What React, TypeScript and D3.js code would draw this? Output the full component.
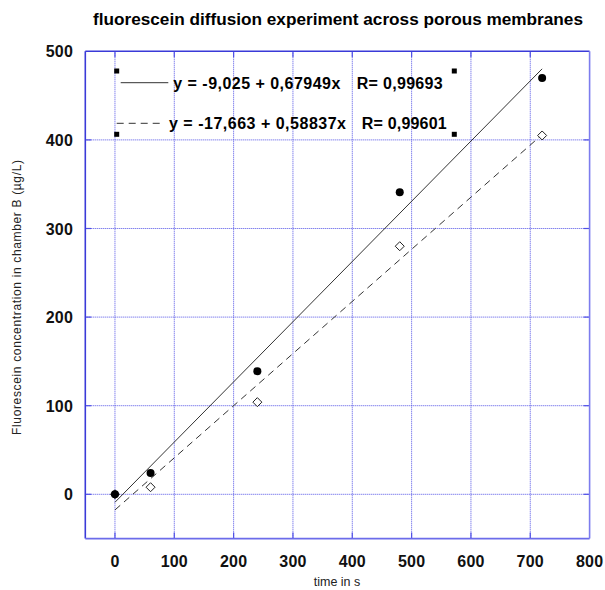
import React from "react";
import * as d3 from "d3";

const timesA = [0, 60, 240, 480, 720];
const concA = [0, 24, 139, 341, 470];
const timesB = [0, 60, 240, 480, 720];
const concB = [0, 8, 104, 280, 405];
const fitA = { intercept: -9.025, slope: 0.67949 };
const fitB = { intercept: -17.663, slope: 0.58837 };
const xTicks = [0, 100, 200, 300, 400, 500, 600, 700, 800];
const yTicks = [0, 100, 200, 300, 400, 500];
const xGrid = [0, 100, 200, 300, 400, 500, 600, 700];
const yGrid = [0, 100, 200, 300, 400];
const legendEq = ["y = -9,025 + 0,67949x", "y = -17,663 + 0,58837x"];
const legendR = ["R= 0,99693", "R= 0,99601"];
const fitRange = [0, 720];

const W = 605;
const H = 590;
const L = 85.3, R = 589.6, T = 51.3, B = 538.6;

export default function App() {
  const x = d3.scaleLinear().domain([-50, 800]).range([L, R]);
  const y = d3.scaleLinear().domain([-50, 500]).range([B, T]);
  const font = "'Liberation Sans', Arial, sans-serif";
  const line = d3
    .line<number>()
    .x((d) => x(d[0]))
    .y((d) => y(d[1]));
  const fitPts = (f: { intercept: number; slope: number }) =>
    fitRange.map((t) => [t, f.intercept + f.slope * t] as any);
  const gridColor = "#5050e6";
  return (
    <svg
      width={W}
      height={H}
      style={{ position: "absolute", left: 0, top: 0, background: "#fff" }}
    >
      <rect x={0} y={0} width={W} height={H} fill="#fff" />
      <text
        x={338}
        y={25}
        textAnchor="middle"
        fontFamily={font}
        fontWeight="bold"
        fontSize={16.5}
        textLength={490}
        lengthAdjust="spacingAndGlyphs"
        fill="#000"
      >
        fluorescein diffusion experiment across porous membranes
      </text>
      {/* grid */}
      {xGrid.map((t) => (
        <g key={"xg" + t}>
          <line
            x1={x(t)}
            x2={x(t)}
            y1={T}
            y2={B}
            stroke={gridColor}
            strokeWidth={1}
            strokeDasharray="1,1"
          />
          <line x1={x(t)} x2={x(t)} y1={B} y2={B - 6} stroke={gridColor} strokeWidth={1.2} />
          <line x1={x(t)} x2={x(t)} y1={T} y2={T + 6} stroke={gridColor} strokeWidth={1.2} />
        </g>
      ))}
      {yGrid.map((v) => (
        <g key={"yg" + v}>
          <line
            x1={L}
            x2={R}
            y1={y(v)}
            y2={y(v)}
            stroke={gridColor}
            strokeWidth={1}
            strokeDasharray="1,1"
          />
          <line x1={L} x2={L + 6} y1={y(v)} y2={y(v)} stroke={gridColor} strokeWidth={1.2} />
          <line x1={R} x2={R - 6} y1={y(v)} y2={y(v)} stroke={gridColor} strokeWidth={1.2} />
        </g>
      ))}
      {/* frame */}
      <line x1={L} x2={R} y1={T} y2={T} stroke="#3a3ad8" strokeWidth={1.6} />
      <line x1={L} x2={L} y1={T} y2={B} stroke="#3a3ad8" strokeWidth={1.6} />
      <line x1={R} x2={R} y1={T} y2={B} stroke="#7c7cee" strokeWidth={1.6} />
      <line x1={L} x2={R} y1={B} y2={B} stroke="#6c6cea" strokeWidth={1.6} />
      {/* tick labels */}
      {xTicks.map((t) => (
        <text
          key={"xt" + t}
          x={x(t)}
          y={566.5}
          textAnchor="middle"
          fontFamily={font}
          fontWeight="bold"
          fontSize={16}
          letterSpacing={0.2}
          fill="#111"
        >
          {t}
        </text>
      ))}
      {yTicks.map((v) => (
        <text
          key={"yt" + v}
          x={73}
          y={y(v) + 6}
          textAnchor="end"
          fontFamily={font}
          fontWeight="bold"
          fontSize={16}
          letterSpacing={0.2}
          fill="#111"
        >
          {v}
        </text>
      ))}
      <text
        x={337}
        y={585.5}
        textAnchor="middle"
        fontFamily={font}
        fontSize={12.5}
        fill="#222"
      >
        time in s
      </text>
      <text
        transform={`translate(21, 297.5) rotate(-90)`}
        textAnchor="middle"
        fontFamily={font}
        fontSize={12}
        textLength={275}
        lengthAdjust="spacing"
        fill="#222"
      >
        Fluorescein concentration in chamber B (µg/L)
      </text>
      {/* fit lines */}
      <path d={line(fitPts(fitA)) || ""} fill="none" stroke="#333" strokeWidth={1} />
      <path
        d={line(fitPts(fitB)) || ""}
        fill="none"
        stroke="#333"
        strokeWidth={1}
        strokeDasharray="7,5"
      />
      {/* series B diamonds */}
      {timesB.map((t, i) => {
        const cx = x(t), cy = y(concB[i]);
        const s = 4.5;
        return (
          <path
            key={"b" + i}
            d={`M${cx},${cy - s}L${cx + s},${cy}L${cx},${cy + s}L${cx - s},${cy}Z`}
            fill="#fff"
            stroke="#222"
            strokeWidth={1}
          />
        );
      })}
      {/* series A circles */}
      {timesA.map((t, i) => (
        <circle key={"a" + i} cx={x(t)} cy={y(concA[i])} r={4} fill="#000" />
      ))}
      {/* legend */}
      <line x1={120.7} x2={168.3} y1={82.7} y2={82.7} stroke="#333" strokeWidth={1} />
      <line
        x1={116.7}
        x2={163.3}
        y1={123.3}
        y2={123.3}
        stroke="#333"
        strokeWidth={1}
        strokeDasharray="7,5"
      />
      <text x={173.3} y={89} fontFamily={font} fontWeight="bold" fontSize={16} textLength={167} lengthAdjust="spacing" fill="#000">
        {legendEq[0]}
      </text>
      <text x={356.7} y={89} fontFamily={font} fontWeight="bold" fontSize={16} textLength={86} lengthAdjust="spacing" fill="#000">
        {legendR[0]}
      </text>
      <text x={169} y={129} fontFamily={font} fontWeight="bold" fontSize={16} textLength={177} lengthAdjust="spacing" fill="#000">
        {legendEq[1]}
      </text>
      <text x={361.7} y={129} fontFamily={font} fontWeight="bold" fontSize={16} textLength={85} lengthAdjust="spacing" fill="#000">
        {legendR[1]}
      </text>
      {[
        [116.7, 71],
        [116.7, 134.3],
        [454.3, 71],
        [454.3, 134.3],
      ].map(([hx, hy], i) => (
        <rect key={"h" + i} x={hx - 2.5} y={hy - 2.5} width={5} height={5} fill="#000" />
      ))}
    </svg>
  );
}
